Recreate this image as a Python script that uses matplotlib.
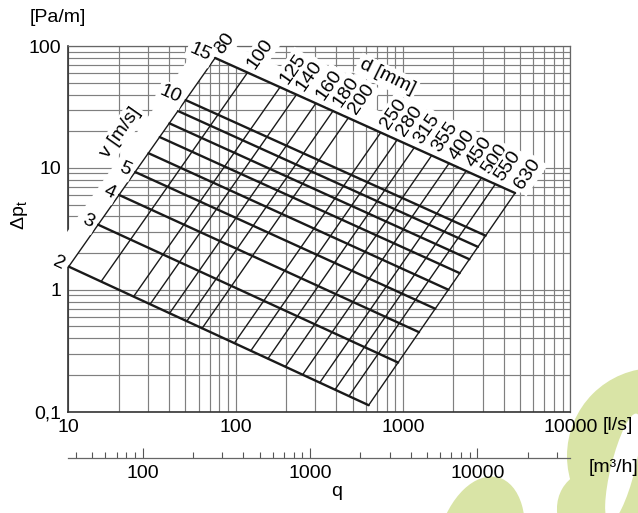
import numpy as np
import matplotlib.pyplot as plt
from matplotlib.patches import Ellipse, Circle, Polygon
from matplotlib.ticker import FixedLocator, NullFormatter

plt.rcParams['font.family'] = ['Liberation Sans', 'DejaVu Sans']
plt.rcParams['mathtext.fontset'] = 'custom'
plt.rcParams['mathtext.rm'] = 'Liberation Sans'
plt.rcParams['font.size'] = 14

# duct diameters [mm] and pressure loss [Pa/m] at the ends of each d-line
diam_mm = [80, 100, 125, 140, 160, 180, 200, 250, 280, 315, 355, 400, 450, 500, 550, 630]
dp_at_v2 = [1.55, 1.17, 0.88, 0.76, 0.64, 0.55, 0.48, 0.365, 0.316, 0.272,
            0.234, 0.201, 0.173, 0.152, 0.134, 0.113]
dp_at_v15 = [79.8, 60.6, 45.9, 39.9, 33.9, 29.3, 25.7, 19.5, 17.0, 14.7,
             12.65, 10.9, 9.43, 8.28, 7.36, 6.22]

# air velocities [m/s] and pressure loss at the ends of each v-line (d=80 / d=630)
vel_ms = [2, 3, 4, 5, 6, 7, 8, 9, 10, 15]
dp_at_d80 = [1.55, 3.42, 6.0, 9.25, 13.2, 17.9, 23.2, 29.3, 36.0, 79.8]
dp_at_d630 = [0.113, 0.253, 0.449, 0.699, 1.0, 1.37, 1.78, 2.25, 2.78, 6.22]
vel_labels = {2: '2', 3: '3', 4: '4', 5: '5', 10: '10', 15: '15'}

x_ticks = [10, 100, 1000, 10000]
x_ticklabels = ['10', '100', '1000', '10000']
y_ticks = [0.1, 1, 10, 100]
y_ticklabels = ['0,1', '1', '10', '100']
m3h_major = [100, 1000, 10000]
m3h_minor = [40, 50, 60, 70, 80, 90, 200, 300, 400, 500, 600, 700, 800, 900,
             2000, 3000, 4000, 5000, 6000, 7000, 8000, 9000, 20000, 30000]


def flow_ls(v, d):
    # q = v * pi d^2 / 4, in l/s
    return v * np.pi * (d / 1000.0) ** 2 / 4 * 1000


fig = plt.figure(figsize=(6.38, 5.13), dpi=100)

# background layer in pixel coords (watermark + free texts)
bg = fig.add_axes([0, 0, 1, 1], zorder=-1)
bg.set_xlim(0, 638)
bg.set_ylim(513, 0)
bg.axis('off')
wm = '#d9e4a6'
bg.add_patch(Ellipse((480, 545), 85, 140, angle=15, color=wm, lw=0))
bg.add_patch(Circle((655, 456), 88, color=wm, lw=0))
bg.add_patch(Ellipse((625, 525), 145, 105, angle=30, color=wm, lw=0))
bg.add_patch(Ellipse((623, 468), 24, 112, angle=14, color='white', lw=0))

bg.text(30, 17, '[Pa/m]', ha='left', va='center')
bg.text(20, 215, r'$\Delta$p$_\mathrm{t}$', rotation=90, ha='center', va='center')
bg.text(603, 425, '[l/s]', ha='left', va='center')
bg.text(589, 468, '[m³/h]', ha='left', va='center')
bg.text(337, 492, 'q', ha='center', va='center')

ax = fig.add_axes([0.1071, 0.1975, 0.7868, 0.7128])
ax.set_xscale('log')
ax.set_yscale('log')
ax.set_xlim(10, 10000)
ax.set_ylim(0.1, 100)
ax.patch.set_visible(False)

minor_x = [m * 10 ** e for e in range(1, 4) for m in range(2, 10)]
minor_y = [m * 10.0 ** e for e in range(-1, 2) for m in range(2, 10)]
ax.set_xticks(x_ticks)
ax.set_xticklabels(x_ticklabels)
ax.set_yticks(y_ticks)
ax.set_yticklabels(y_ticklabels)
ax.xaxis.set_minor_locator(FixedLocator(minor_x))
ax.yaxis.set_minor_locator(FixedLocator(minor_y))
ax.xaxis.set_minor_formatter(NullFormatter())
ax.yaxis.set_minor_formatter(NullFormatter())
ax.tick_params(which='both', length=0)
ax.tick_params(axis='x', pad=5)
ax.tick_params(axis='y', pad=5)
ax.grid(which='both', color='#7f7f7f', lw=0.85)
ax.set_axisbelow(True)
for s in ['top', 'right']:
    ax.spines[s].set_color('#666666')
    ax.spines[s].set_linewidth(0.9)
for s in ['left', 'bottom']:
    ax.spines[s].set_color('#333333')
    ax.spines[s].set_linewidth(1.2)

# secondary flow axis in m3/h
sec = ax.secondary_xaxis(-0.1266, functions=(lambda x: x * 3.6, lambda x: x / 3.6))
sec.set_xticks(m3h_major)
sec.set_xticklabels([str(t) for t in m3h_major])
sec.xaxis.set_minor_locator(FixedLocator(m3h_minor))
sec.xaxis.set_minor_formatter(NullFormatter())
sec.tick_params(which='major', direction='in', length=7, width=0.8, color='#555555', pad=5)
sec.tick_params(which='minor', direction='in', length=4, width=0.8, color='#555555')
sec.spines['bottom'].set_color('#666666')
sec.spines['bottom'].set_linewidth(0.9)

d0, d1 = diam_mm[0], diam_mm[-1]
v0, v1 = vel_ms[0], vel_ms[-1]

# white masks behind the labels along the left and top edges of the nomogram
lb = 10 ** 0.155
left_band = Polygon([(flow_ls(v0, d0), dp_at_d80[0]), (flow_ls(v1, d0), dp_at_d80[-1]),
                     (flow_ls(v1, d0) / lb, dp_at_d80[-1]), (flow_ls(v0, d0) / lb, dp_at_d80[0])],
                    closed=True, fc='white', ec='none', zorder=3, clip_on=False)
ax.add_patch(left_band)
tb = 10 ** 0.17
top_band = Polygon([(flow_ls(v1, d0), dp_at_v15[0]), (flow_ls(v1, d1), dp_at_v15[-1]),
                    (flow_ls(v1, d1), dp_at_v15[-1] * tb), (flow_ls(v1, d0), dp_at_v15[0] * tb)],
                   closed=True, fc='white', ec='none', zorder=3, clip_on=False)
ax.add_patch(top_band)

# diameter lines
for d, pa, pb in zip(diam_mm, dp_at_v2, dp_at_v15):
    ax.plot([flow_ls(v0, d), flow_ls(v1, d)], [pa, pb], color='#1a1a1a', lw=1.0,
            zorder=4, solid_capstyle='round')

# velocity lines
for v, pa, pb in zip(vel_ms, dp_at_d80, dp_at_d630):
    ax.plot([flow_ls(v, d0), flow_ls(v, d1)], [pa, pb], color='#1a1a1a', lw=1.7,
            zorder=4, solid_capstyle='round')


def screen_angle(p0, p1):
    a = ax.transData.transform(p0)
    b = ax.transData.transform(p1)
    return np.degrees(np.arctan2(b[1] - a[1], b[0] - a[0]))


box = dict(fc='white', ec='none', pad=2)

for d, pa, pb in zip(diam_mm, dp_at_v2, dp_at_v15):
    p0 = (flow_ls(v0, d), pa)
    p1 = (flow_ls(v1, d), pb)
    ang = screen_angle(p0, p1)
    off = 4.5
    ax.annotate(str(d), xy=p1, xytext=(off * np.cos(np.radians(ang)), off * np.sin(np.radians(ang))),
                textcoords='offset points', rotation=ang, rotation_mode='anchor',
                ha='left', va='center', bbox=box, zorder=5)

for v, pa, pb in zip(vel_ms, dp_at_d80, dp_at_d630):
    if v not in vel_labels:
        continue
    p0 = (flow_ls(v, d0), pa)
    p1 = (flow_ls(v, d1), pb)
    ang = screen_angle(p0, p1)
    off = 4
    ax.annotate(vel_labels[v], xy=p0,
                xytext=(-off * np.cos(np.radians(ang)), -off * np.sin(np.radians(ang)) - 1),
                textcoords='offset points', rotation=ang, rotation_mode='anchor',
                ha='right', va='center', bbox=box, zorder=5)

ang_d = screen_angle((flow_ls(v0, d0), dp_at_v2[0]), (flow_ls(v1, d0), dp_at_v15[0]))
ang_v = screen_angle((flow_ls(v1, d0), dp_at_d80[-1]), (flow_ls(v1, d1), dp_at_d630[-1]))
ax.text(20.4, 19.3, 'v [m/s]', rotation=ang_d, rotation_mode='anchor', ha='center', va='center',
        bbox=box, zorder=5)
ax.text(803, 55.7, 'd [mm]', rotation=ang_v - 2, rotation_mode='anchor', ha='center', va='center',
        bbox=box, zorder=5)

plt.savefig('out.png', dpi=100)
